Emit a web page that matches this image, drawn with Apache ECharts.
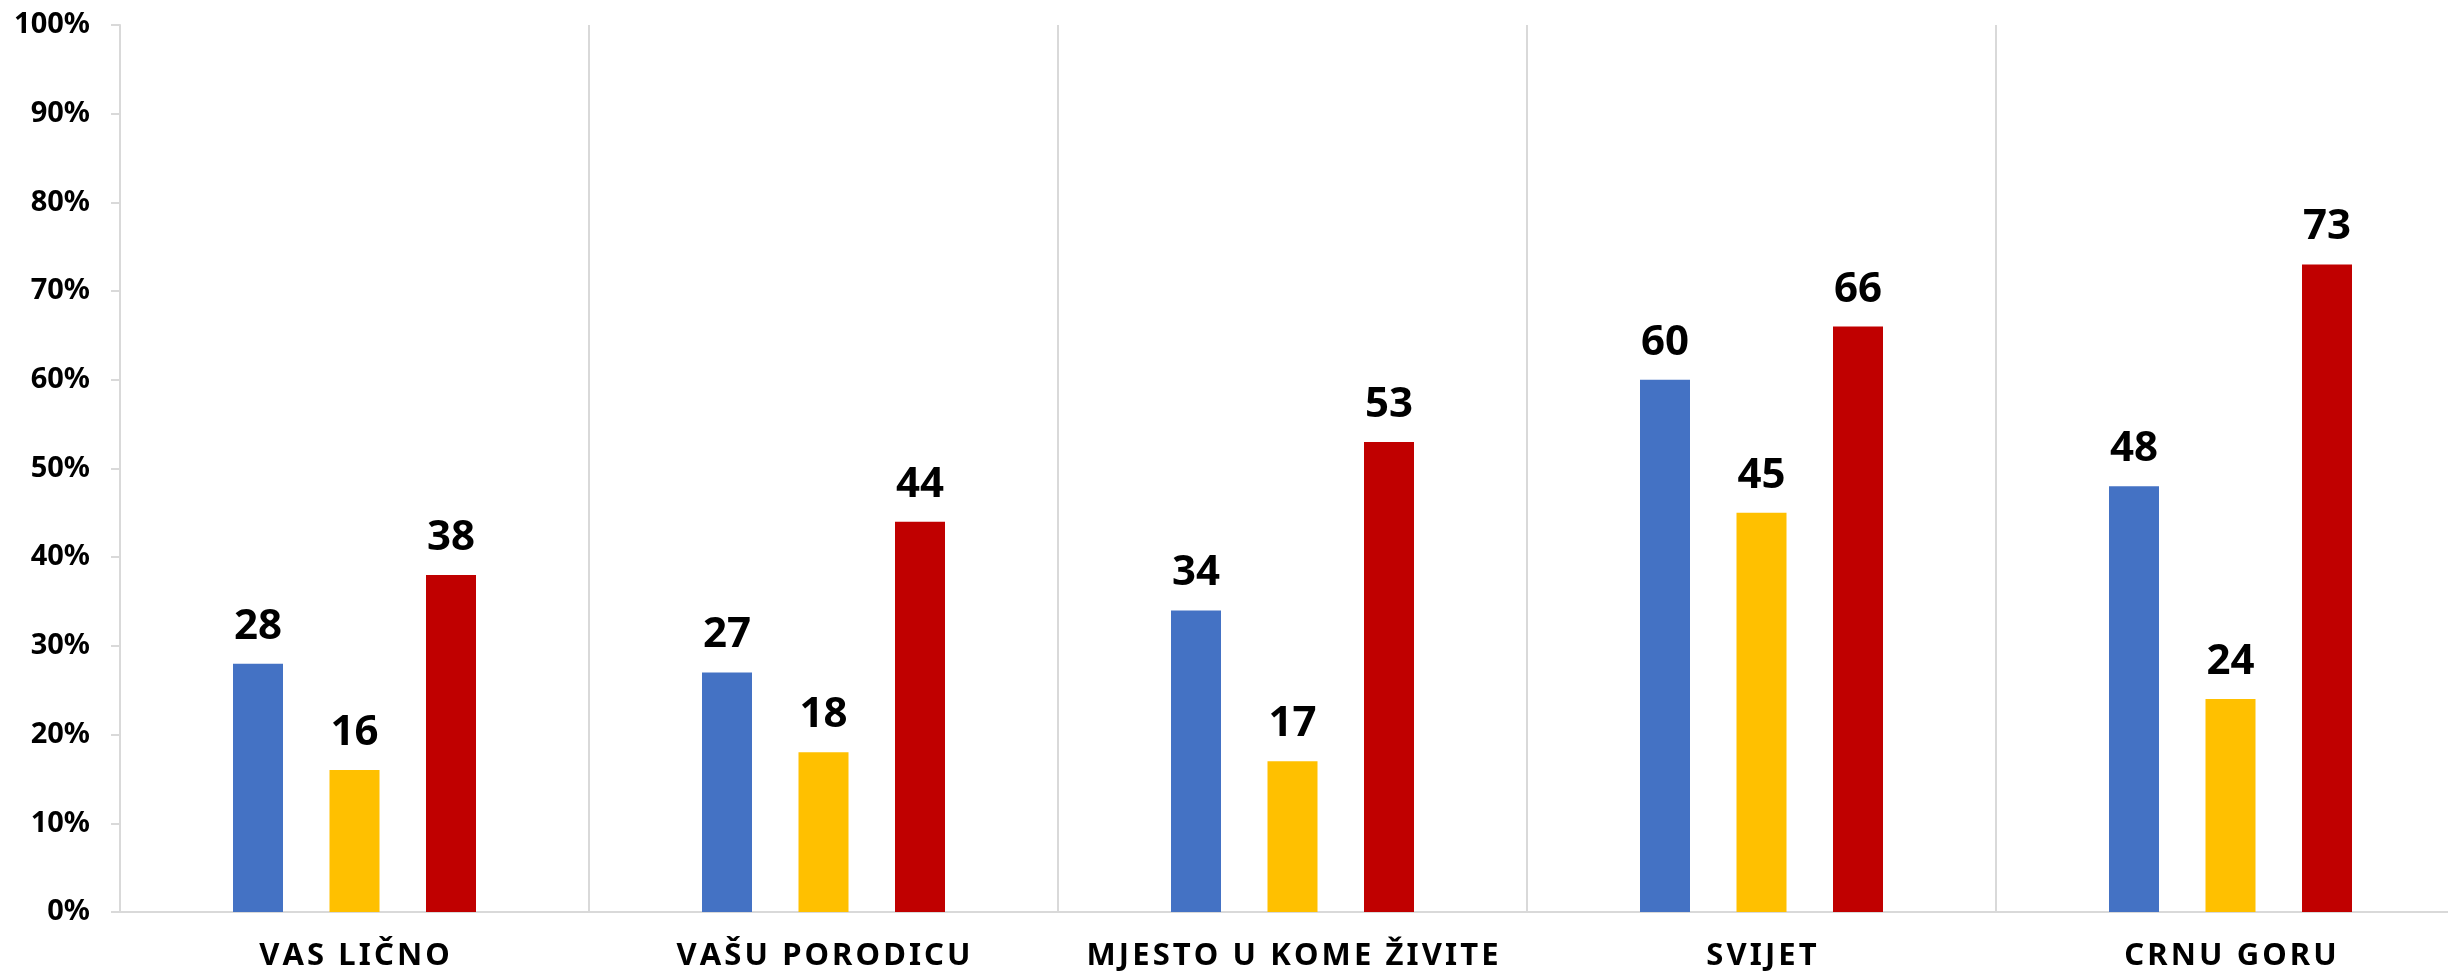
<!DOCTYPE html>
<html>
<head>
<meta charset="utf-8">
<script src="https://cdn.jsdelivr.net/npm/echarts@6/dist/echarts.min.js"></script>
<style>
  html, body { margin: 0; padding: 0; background: #fff; overflow: hidden; }
  /* a bit wider than the window: the last category runs past the right edge in the original */
  #chart { width: 2465px; height: 975px; }
</style>
</head>
<body>
<div id="chart"></div>
<script>
const categories = ['VAS LIČNO', 'VAŠU PORODICU', 'MJESTO U KOME ŽIVITE', 'SVIJET', 'CRNU GORU']
const blueValues = [28, 27, 34, 60, 48]
const yellowValues = [16, 18, 17, 45, 24]
const redValues = [38, 44, 53, 66, 73]

const font = '"Noto Sans", sans-serif'
const gridColor = '#d9d9d9'

// spread the letters a bit, like the original category labels
const spaced = s => s.split('').join('\u200A')

const makeSeries = (name, data, color) => ({
  name: name,
  type: 'bar',
  data: data,
  barWidth: 50,
  barGap: '93%',
  itemStyle: { color: color },
  label: {
    show: true,
    position: 'top',
    distance: 16,
    color: '#000',
    fontFamily: font,
    fontWeight: 'bold',
    fontSize: 42
  }
})

const chart = echarts.init(document.getElementById('chart'))
chart.setOption({
  animation: false,
  grid: { left: 120, right: 0, top: 25, bottom: 63, containLabel: false },
  xAxis: {
    type: 'category',
    data: categories,
    axisLine: { lineStyle: { color: gridColor, width: 2 } },
    axisTick: { show: false },
    splitLine: { show: true, interval: 0, lineStyle: { color: gridColor, width: 2 } },
    axisLabel: {
      interval: 0,
      color: '#000',
      fontFamily: font,
      fontWeight: 'bold',
      fontSize: 31,
      margin: 29,
      formatter: spaced
    }
  },
  yAxis: {
    type: 'value',
    min: 0,
    max: 100,
    interval: 10,
    axisLine: { show: true, lineStyle: { color: gridColor, width: 2 } },
    axisTick: { show: true, length: 9, lineStyle: { color: gridColor, width: 2 } },
    splitLine: { show: false },
    axisLabel: {
      color: '#000',
      fontFamily: font,
      fontWeight: 'bold',
      fontSize: 29,
      margin: 30,
      formatter: '{value}%'
    }
  },
  series: [
    makeSeries('blue', blueValues, '#4472C4'),
    makeSeries('yellow', yellowValues, '#FFC000'),
    makeSeries('red', redValues, '#C00000')
  ]
})
</script>
</body>
</html>
